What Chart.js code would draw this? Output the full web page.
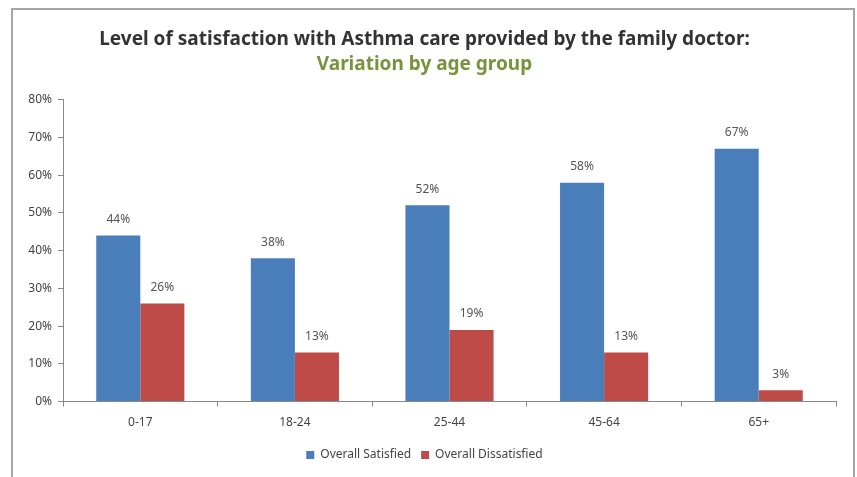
<!DOCTYPE html>
<html>
<head>
<meta charset="utf-8">
<script src="https://cdn.jsdelivr.net/npm/chart.js@4.4.1/dist/chart.umd.min.js"></script>
<style>
  html, body { margin: 0; padding: 0; background: #fff; }
  #wrap { position: relative; width: 857px; height: 477px; }
  #frame { position: absolute; left: 11px; top: 8px; width: 844px; height: 469px;
           border: 2px solid #a6a6a6; border-bottom: none; box-sizing: border-box; }
  canvas { position: absolute; left: 0; top: 0; }
</style>
</head>
<body>
<div id="wrap">
  <div id="frame"></div>
  <canvas id="chart" width="857" height="477"></canvas>
</div>
<script>
const ageGroups = ['0-17', '18-24', '25-44', '45-64', '65+'];
const satisfied = [44, 38, 52, 58, 67];
const dissatisfied = [26, 13, 19, 13, 3];
const yTicks = [0, 10, 20, 30, 40, 50, 60, 70, 80];

const FONT = "'Noto Sans', sans-serif";

// writes each bar's value just above it
const valueLabels = {
  id: 'valueLabels',
  afterDatasetsDraw(chart) {
    const ctx = chart.ctx;
    ctx.save();
    ctx.font = '12px ' + FONT;
    ctx.fillStyle = '#555';
    ctx.textAlign = 'center';
    ctx.textBaseline = 'middle';
    chart.data.datasets.forEach((ds, i) => {
      chart.getDatasetMeta(i).data.forEach((bar, j) => {
        ctx.fillText(ds.data[j] + '%', bar.x, bar.y - 16);
      });
    });
    ctx.restore();
  }
};

new Chart(document.getElementById('chart'), {
  type: 'bar',
  data: {
    labels: ageGroups,
    datasets: [
      { label: 'Overall Satisfied', data: satisfied, backgroundColor: '#4a7ebb' },
      { label: 'Overall Dissatisfied', data: dissatisfied, backgroundColor: '#be4b48' }
    ]
  },
  options: {
    responsive: false,
    animation: false,
    categoryPercentage: 0.57,
    barPercentage: 1,
    layout: { padding: { left: 13, right: 21, top: 28, bottom: 6 } },
    plugins: {
      title: {
        display: true,
        text: 'Level of satisfaction with Asthma care provided by the family doctor:',
        color: '#333',
        font: { family: FONT, size: 19, weight: 'bold' },
        padding: { top: 0, bottom: 2 }
      },
      subtitle: {
        display: true,
        text: 'Variation by age group',
        color: '#77933c',
        font: { family: FONT, size: 19, weight: 'bold' },
        padding: { top: 0, bottom: 24 }
      },
      legend: {
        position: 'bottom',
        labels: {
          boxWidth: 8, boxHeight: 8, color: '#444', padding: 10,
          font: { family: FONT, size: 12 }
        }
      },
      tooltip: { enabled: false }
    },
    scales: {
      x: {
        grid: { display: true, drawOnChartArea: false, offset: true, tickLength: 5, color: '#888' },
        border: { color: '#888' },
        ticks: { color: '#444', font: { family: FONT, size: 12 }, padding: 9 }
      },
      y: {
        min: 0, max: 80,
        afterBuildTicks: s => { s.ticks = yTicks.map(v => ({ value: v })); },
        afterFit: s => { s.width = 50; },
        grid: { display: true, drawOnChartArea: false, tickLength: 5, color: '#888' },
        border: { color: '#888' },
        ticks: { color: '#444', font: { family: FONT, size: 12 }, padding: 6, callback: v => v + '%' }
      }
    }
  },
  plugins: [valueLabels]
});
</script>
</body>
</html>
